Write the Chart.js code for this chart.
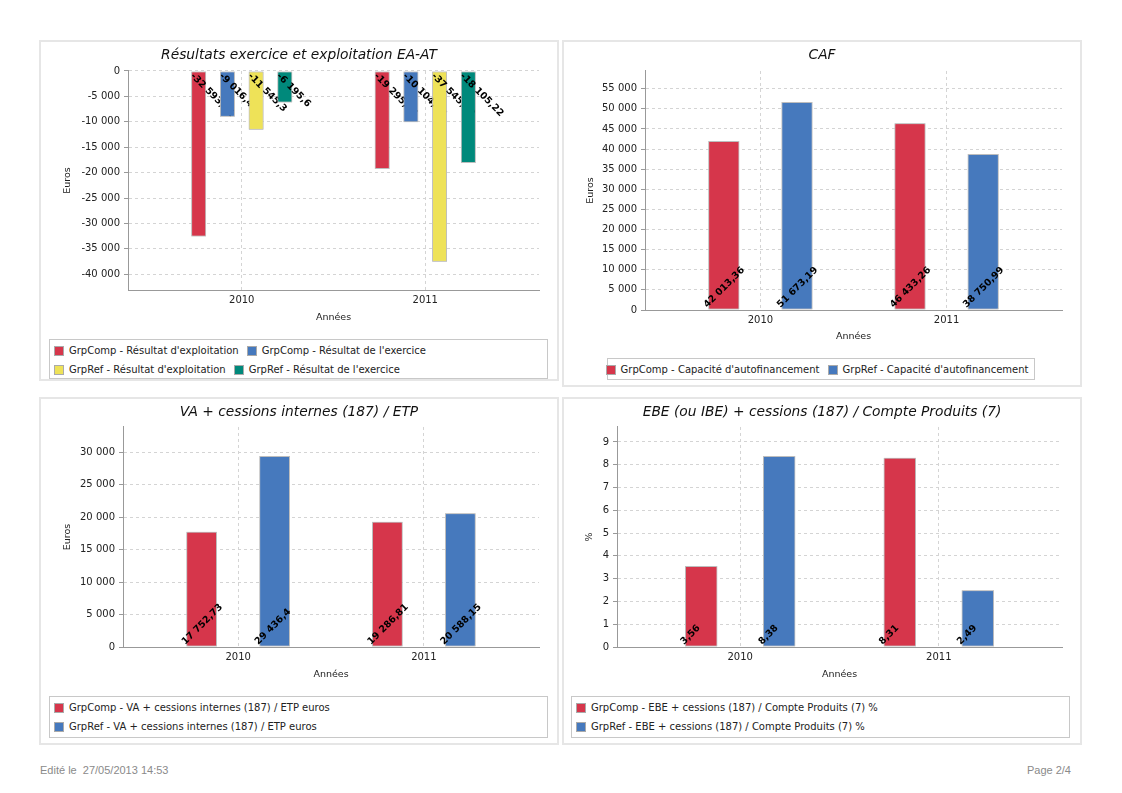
<!DOCTYPE html>
<html lang="fr">
<head>
<meta charset="utf-8">
<title>Graphiques EA-AT</title>
<script src="https://cdn.jsdelivr.net/npm/chart.js@4.4.1/dist/chart.umd.min.js"></script>
<style>
  body { margin: 0; background: #fff; font-family: "DejaVu Sans", sans-serif; }
  .panneau { position: absolute; border: 2px solid #e6e6e6; box-sizing: border-box; }
  canvas { position: absolute; }
  .legende { position: absolute; border: 1px solid #c8c8c8; box-sizing: border-box; display: flex; flex-wrap: wrap;
             align-content: flex-start; padding: 1px 4px 0 4px; font-size: 10px; color: #222; }
  .item { display: flex; align-items: center; height: 19px; margin-right: 8px; white-space: nowrap; }
  .carre { width: 10px; height: 10px; box-sizing: border-box; border: 1px solid #aaa; margin-right: 5px; }
  .pied { position: absolute; top: 764px; font-family: "Liberation Sans", Arial, sans-serif; font-size: 11px; color: #8a8a8a; }
</style>
</head>
<body>

<div class="panneau" style="left:39px; top:40px; width:520px; height:341px;"></div>
<div class="panneau" style="left:562px; top:40px; width:520px; height:347px;"></div>
<div class="panneau" style="left:39px; top:397px; width:520px; height:348px;"></div>
<div class="panneau" style="left:562px; top:397px; width:520px; height:348px;"></div>

<canvas id="resultats" width="516" height="295" style="left:41px; top:42px;"></canvas>
<canvas id="caf" width="516" height="312" style="left:564px; top:42px;"></canvas>
<canvas id="va" width="516" height="292" style="left:41px; top:399px;"></canvas>
<canvas id="ebe" width="516" height="292" style="left:564px; top:399px;"></canvas>

<div class="legende" id="leg-resultats" style="left:49px; top:339px; width:499px; height:40px;"></div>
<div class="legende" id="leg-caf" style="left:607px; top:358px; width:428px; height:22px; flex-wrap:nowrap; justify-content:center; padding-left:0; padding-right:0;"></div>
<div class="legende" id="leg-va" style="left:49px; top:696px; width:499px; height:42px;"></div>
<div class="legende" id="leg-ebe" style="left:571px; top:696px; width:499px; height:42px;"></div>

<div class="pied" style="left:40px;">Edité le&nbsp; 27/05/2013 14:53</div>
<div class="pied" style="right:51px;">Page 2/4</div>

<script>
// Données

const annees = ["2010", "2011"];

// Résultats exercice et exploitation EA-AT
const resultatsSeries = ["GrpComp - Résultat d'exploitation", "GrpComp - Résultat de l'exercice",
                         "GrpRef - Résultat d'exploitation", "GrpRef - Résultat de l'exercice"];
const exploitationComp = [-32593.61, -19295.04];
const exerciceComp = [-9016.42, -10104.87];
const exploitationRef = [-11545.3, -37545.12];
const exerciceRef = [-6195.6, -18105.22];

// CAF
const cafSeries = ["GrpComp - Capacité d'autofinancement", "GrpRef - Capacité d'autofinancement"];
const cafComp = [42013.36, 46433.26];
const cafRef = [51673.19, 38750.99];

// VA + cessions internes (187) / ETP
const vaSeries = ["GrpComp - VA + cessions internes (187) / ETP euros", "GrpRef - VA + cessions internes (187) / ETP euros"];
const vaComp = [17752.73, 19286.81];
const vaRef = [29436.4, 20588.15];

// EBE (ou IBE) + cessions (187) / Compte Produits (7)
const ebeSeries = ["GrpComp - EBE + cessions (187) / Compte Produits (7) %", "GrpRef - EBE + cessions (187) / Compte Produits (7) %"];
const ebeComp = [3.56, 8.31];
const ebeRef = [8.38, 2.49];

const rouge = "#D6364B";
const bleu = "#4679BD";
const jaune = "#EEE258";
const vert = "#00897B";

// 1 234,5 à la française
function formatNombre(v) {
    const s = (Math.round(Math.abs(v) * 100) / 100).toString();
    let [ent, dec] = s.split(".");
    ent = ent.replace(/\B(?=(\d{3})+(?!\d))/g, " ");
    return (v < 0 ? "-" : "") + ent + (dec ? "," + dec : "");
}

// Etiquettes inclinées au pied des barres, dessinées série par série
const etiquettesBarres = {
    id: "etiquettesBarres",
    afterDatasetsDraw(chart) {
        const ctx = chart.ctx;
        const zone = chart.chartArea;
        const zero = chart.scales.y.getPixelForValue(0);
        ctx.save();
        ctx.beginPath();
        ctx.rect(zone.left, zone.top, zone.right - zone.left, zone.bottom - zone.top);
        ctx.clip();
        chart.data.datasets.forEach((ds, i) => {
            const barres = chart.getDatasetMeta(i).data;
            barres.forEach(b => b.draw(ctx));
            ctx.font = "bold 9.5px 'DejaVu Sans'";
            ctx.fillStyle = "#000";
            ctx.textAlign = "left";
            ctx.textBaseline = "alphabetic";
            barres.forEach((b, k) => {
                const v = ds.data[k].y;
                const gauche = b.x - b.width / 2;
                ctx.save();
                if (v < 0) {
                    ctx.translate(gauche - 1, zero + 5.5);
                    ctx.rotate(Math.PI / 4);
                } else {
                    ctx.translate(gauche - 1, zero - 2);
                    ctx.rotate(-Math.PI / 4);
                }
                ctx.fillText(formatNombre(v), 0, 0);
                ctx.restore();
            });
        });
        ctx.restore();
    }
};

function creerLegende(id, labels, couleurs) {
    const div = document.getElementById(id);
    labels.forEach((l, i) => {
        const item = document.createElement("div");
        item.className = "item";
        const carre = document.createElement("span");
        carre.className = "carre";
        carre.style.background = couleurs[i];
        item.appendChild(carre);
        item.appendChild(document.createTextNode(l));
        div.appendChild(item);
    });
}

function creerGraphique(id, titre, titreY, labels, series, couleurs, yMin, yMax, pas, geo) {
    const police = { family: "'DejaVu Sans'", size: 10 };
    const policeTitreAxe = { family: "'DejaVu Sans'", size: 9.5 };
    const datasets = series.map((valeurs, i) => ({
        label: labels[i],
        data: valeurs.map((v, k) => ({ x: k, y: v })),
        backgroundColor: couleurs[i],
        borderColor: "#bdbdbd",
        borderWidth: 1,
        borderSkipped: false,
        categoryPercentage: geo.cat,
        barPercentage: geo.bar
    }));

    const config = {
        type: "bar",
        data: { datasets: datasets },
        options: {
            responsive: false,
            animation: false,
            layout: { padding: 0 },
            scales: {
                x: {
                    type: "linear",
                    min: -0.62,
                    max: 1.62,
                    bounds: "data",
                    offset: false,
                    afterBuildTicks: s => { s.ticks = annees.map((a, i) => ({ value: i })); },
                    afterFit: s => { s.height = geo.hx; },
                    ticks: { callback: v => annees[v], font: police, color: "#222", padding: 4, maxRotation: 0, autoSkip: false },
                    grid: { color: "#d4d4d4", drawTicks: false, offset: false },
                    border: { display: true, color: "#999", dash: [3, 3] },
                    title: { display: true, text: "Années", font: policeTitreAxe, color: "#222", padding: { top: 0, bottom: geo.pbx } }
                },
                y: {
                    min: yMin,
                    max: yMax,
                    // graduations aux multiples du pas
                    afterBuildTicks: s => {
                        const graduations = [];
                        for (let k = Math.ceil(yMin / pas); k * pas <= yMax; k++) {
                            graduations.push({ value: k * pas });
                        }
                        s.ticks = graduations;
                    },
                    afterFit: s => { s.width = geo.wy; },
                    ticks: { stepSize: pas, callback: v => formatNombre(v), font: police, color: "#222", padding: 4 },
                    grid: { color: "#d4d4d4", tickLength: 4, tickColor: "#999" },
                    border: { display: true, color: "#999", dash: [3, 3] },
                    title: { display: true, text: titreY, font: policeTitreAxe, color: "#222", padding: { top: geo.pty, bottom: 0 } }
                },
                // marge droite vide, pour que le titre reste centré sur le panneau
                marge: {
                    type: "linear",
                    position: "right",
                    afterFit: s => { s.width = 18; },
                    ticks: { display: false },
                    grid: { display: false },
                    border: { display: false }
                }
            },
            plugins: {
                legend: { display: false },
                tooltip: { enabled: false },
                title: {
                    display: true,
                    text: titre,
                    color: "#111",
                    font: { family: "'DejaVu Sans'", size: 13.8, style: "italic", weight: "normal" },
                    padding: { top: 5.6, bottom: geo.ptb }
                }
            }
        },
        plugins: [etiquettesBarres]
    };

    const ctx = document.getElementById(id).getContext("2d");
    new Chart(ctx, config);
}

creerGraphique("resultats", "Résultats exercice et exploitation EA-AT", "Euros", resultatsSeries,
    [exploitationComp, exerciceComp, exploitationRef, exerciceRef], [rouge, bleu, jaune, vert],
    -43100, 0, 5000, { wy: 87, hx: 47, pbx: 13.3, pty: 21.3, ptb: 6.8, cat: 0.626, bar: 0.52 });

creerGraphique("caf", "CAF", "Euros", cafSeries, [cafComp, cafRef], [rouge, bleu],
    0, 59400, 5000, { wy: 81, hx: 44, pbx: 11.3, pty: 21.3, ptb: 6.8, cat: 0.786, bar: 0.425 });

creerGraphique("va", "VA + cessions internes (187) / ETP", "Euros", vaSeries, [vaComp, vaRef], [rouge, bleu],
    0, 33900, 5000, { wy: 82, hx: 44, pbx: 10.3, pty: 21.3, ptb: 5.8, cat: 0.786, bar: 0.42 });

creerGraphique("ebe", "EBE (ou IBE) + cessions (187) / Compte Produits (7)", "%", ebeSeries, [ebeComp, ebeRef], [rouge, bleu],
    0, 9.66, 1, { wy: 53, hx: 44, pbx: 10.3, pty: 20.3, ptb: 5.8, cat: 0.785, bar: 0.416 });

creerLegende("leg-resultats", resultatsSeries, [rouge, bleu, jaune, vert]);
creerLegende("leg-caf", cafSeries, [rouge, bleu]);
creerLegende("leg-va", vaSeries, [rouge, bleu]);
creerLegende("leg-ebe", ebeSeries, [rouge, bleu]);
</script>
</body>
</html>
